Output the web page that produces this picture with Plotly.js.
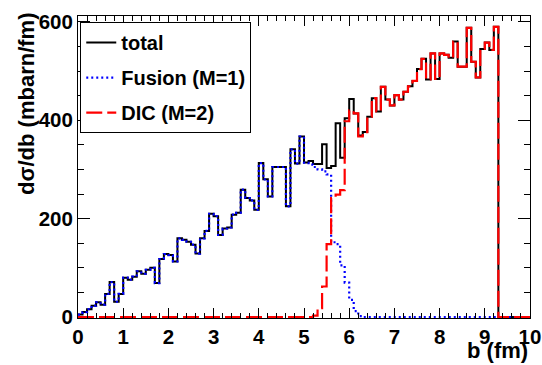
<!DOCTYPE html>
<html>
<head>
<meta charset="utf-8">
<script src="https://cdn.plot.ly/plotly-3.0.1.min.js"></script>
<style>html,body{margin:0;padding:0;background:#fff}#chart{width:542px;height:365px}</style>
</head>
<body>
<div id="chart"></div>
<script>
// bins: width 0.1 fm, from 0 to 10 fm
var binLow = 0, binWidth = 0.1;

var totalVals = [
  5, 10, 16, 23, 30, 25, 47, 71, 31, 47,
  80, 76, 82, 93, 88, 96, 100, 69, 118, 128,
  126, 113, 160, 157, 153, 147, 129, 160, 175, 210,
  205, 167, 180, 182, 208, 212, 259, 242, 237, 218,
  313, 280, 245, 305, 305, 305, 225, 341, 312, 367,
  314, 317, 311, 311, 351, 303, 307, 394, 324, 404,
  443, 414, 369, 376, 407, 445, 418, 468, 442, 430,
  451, 442, 458, 469, 480, 504, 525, 483, 536, 484,
  536, 533, 527, 560, 509, 509, 588, 519, 487, 545,
  558, 543, 590, 0, 0, 0, 0, 0, 0, 0
];

var fusionVals = [
  5, 10, 16, 23, 30, 25, 47, 71, 31, 47,
  80, 76, 82, 93, 88, 96, 100, 69, 118, 128,
  126, 113, 160, 157, 153, 147, 129, 160, 175, 210,
  205, 167, 180, 182, 208, 212, 259, 242, 237, 218,
  313, 280, 245, 305, 305, 305, 225, 341, 312, 367,
  314, 310, 305, 300, 296, 290, 152, 148, 105, 70,
  35, 12, 2, 0, 0, 0, 0, 0, 0, 0,
  0, 0, 0, 0, 0, 0, 0, 0, 0, 0,
  0, 0, 0, 0, 0, 0, 0, 0, 0, 0,
  0, 0, 0, 0, 0, 0, 0, 0, 0, 0
];

var dicVals = [
  0, 0, 0, 0, 0, 0, 0, 0, 0, 0,
  0, 0, 0, 0, 0, 0, 0, 0, 0, 0,
  0, 0, 0, 0, 0, 0, 0, 0, 0, 0,
  0, 0, 0, 0, 0, 0, 0, 0, 0, 0,
  0, 0, 0, 0, 0, 0, 0, 0, 0, 0,
  0, 0, 3, 18, 62, 148, 242, 249, 258, 398,
  420, 414, 367, 376, 407, 445, 418, 468, 442, 430,
  451, 442, 458, 469, 480, 504, 525, 483, 536, 484,
  536, 533, 527, 560, 509, 509, 588, 519, 487, 545,
  558, 543, 590, 0, 0, 0, 0, 0, 0, 0
];

var seriesNames = ['total', 'Fusion (M=1)', 'DIC (M=2)'];
var xTitle = 'b (fm)';
var yTitle = 'd\u03c3/db (mbarn/fm)';

function edges(n) { var e = []; for (var i = 0; i <= n; i++) e.push(+(binLow + i * binWidth).toFixed(2)); return e; }
function stepY(v) { return v.concat([v[v.length - 1]]); }

var xe = edges(totalVals.length);
var fontFam = 'Liberation Sans, Arial, Helvetica, sans-serif';

var traces = [
  {x: xe, y: stepY(totalVals), name: seriesNames[0], type: 'scatter', mode: 'lines',
   line: {shape: 'hv', color: '#000000', width: 2}, legendgroup: 'a'},
  {x: xe, y: stepY(fusionVals), name: seriesNames[1], type: 'scatter', mode: 'lines',
   line: {shape: 'hv', color: '#0000ff', width: 2.2, dash: '2px,3px'}, legendgroup: 'b'},
  {x: xe, y: stepY(dicVals), name: seriesNames[2], type: 'scatter', mode: 'lines',
   line: {shape: 'hv', color: '#ff0000', width: 2.2, dash: '16px,5px'}, legendgroup: 'c'}
];

var layout = {
  width: 542, height: 365,
  margin: {l: 78, r: 12, t: 16, b: 47},
  paper_bgcolor: '#ffffff', plot_bgcolor: '#ffffff',
  font: {family: fontFam, size: 20, color: '#000', weight: 'bold'},
  showlegend: true,
  legend: {x: 0.005, y: 0.98, xanchor: 'left', yanchor: 'top',
           bgcolor: '#ffffff', bordercolor: '#000', borderwidth: 1,
           font: {family: fontFam, size: 20, color: '#000', weight: 'bold'},
           traceorder: 'grouped', tracegroupgap: 6},
  xaxis: {range: [0, 10], dtick: 1, tick0: 0, ticks: 'inside', ticklen: 10, tickcolor: '#000',
          minor: {dtick: 0.2, ticks: 'inside', ticklen: 5, tickcolor: '#000'},
          showline: true, linecolor: '#000', linewidth: 1, mirror: 'ticks',
          showgrid: false, zeroline: false,
          tickfont: {family: fontFam, size: 20.5, color: '#000', weight: 'bold'}},
  yaxis: {range: [-2, 612], dtick: 200, tick0: 0, ticks: 'inside', ticklen: 12, tickcolor: '#000',
          minor: {dtick: 50, ticks: 'inside', ticklen: 6, tickcolor: '#000'},
          showline: true, linecolor: '#000', linewidth: 1, mirror: 'ticks',
          showgrid: false, zeroline: false,
          tickfont: {family: fontFam, size: 20.5, color: '#000', weight: 'bold'}},
  annotations: [
    {text: xTitle, xref: 'paper', yref: 'paper', x: 1, y: -0.1556, xanchor: 'right', yanchor: 'bottom',
     yshift: 0, showarrow: false, font: {family: fontFam, size: 22, color: '#000', weight: 'bold'}},
    {text: yTitle, xref: 'paper', yref: 'paper', x: -0.115, y: 1, xanchor: 'center', yanchor: 'top',
     yshift: 5, textangle: -90, showarrow: false, font: {family: fontFam, size: 22, color: '#000', weight: 'bold'}}
  ]
};

Plotly.newPlot('chart', traces, layout, {displayModeBar: false, staticPlot: true});
</script>
</body>
</html>
